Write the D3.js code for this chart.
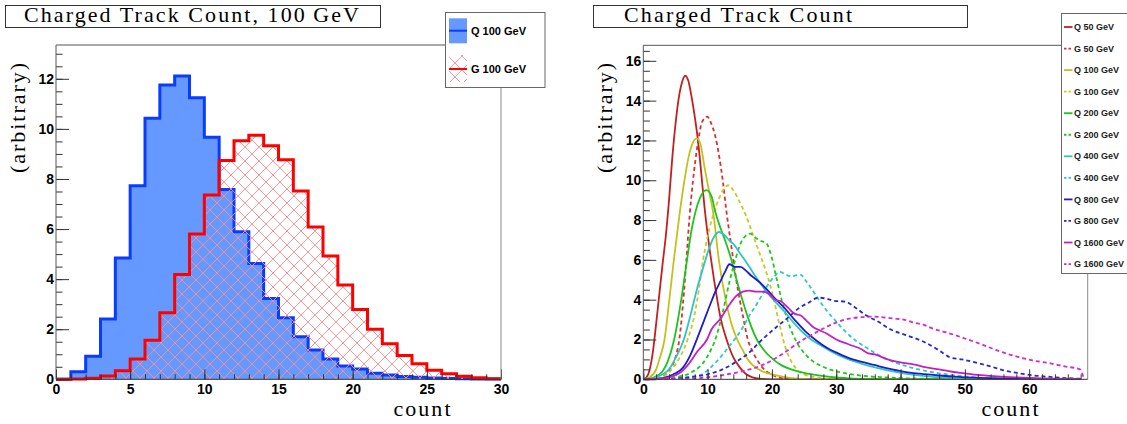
<!DOCTYPE html>
<html>
<head>
<meta charset="utf-8">
<script src="https://cdn.jsdelivr.net/npm/d3@7"></script>
<style>
  body { margin: 0; background: #fff; }
  svg { display: block; }
</style>
</head>
<body>
<div id="chart"></div>
<script>
const width = 1127,
	height = 424;

// ---- left panel: 100 GeV histograms (unit bins) ----
const binStarts = [0, 1, 2, 3, 4, 5, 6, 7, 8, 9, 10, 11, 12, 13, 14, 15, 16, 17, 18, 19, 20, 21, 22, 23, 24, 25, 26, 27, 28, 29];
const quark100 = [0, 0.30, 0.92, 2.41, 4.84, 7.73, 10.42, 11.75, 12.11, 11.24, 9.67, 7.58, 5.89, 4.62, 3.23, 2.46, 1.70, 1.17, 0.81, 0.53, 0.41, 0.24, 0.17, 0.11, 0.08, 0.05, 0.03, 0.02, 0.01, 0.01];
const gluon100 = [0, 0.01, 0.04, 0.13, 0.34, 0.81, 1.56, 2.66, 4.19, 5.80, 7.36, 8.74, 9.53, 9.75, 9.33, 8.77, 7.52, 6.08, 4.92, 3.77, 2.79, 2.0, 1.42, 0.95, 0.62, 0.36, 0.22, 0.12, 0.06, 0.02];
const leftLegend = ["Q 100 GeV", "G 100 GeV"];
const leftXTicks = [0, 5, 10, 15, 20, 25, 30];
const leftYTicks = [0, 2, 4, 6, 8, 10, 12];

// ---- right panel: smoothed distributions, [count, value] ----
const q50 = [[0, 0], [0.5, 0.1], [1, 0.5], [1.5, 1.4], [2, 2.8], [2.5, 4.3], [3, 5.8], [3.5, 7.2], [4, 9.0], [4.5, 11.1], [5, 12.8], [5.5, 14.1], [6, 14.9], [6.5, 15.25], [7, 15.0], [7.5, 14.2], [8, 13.2], [8.5, 12.0], [9, 10.4], [9.5, 8.7], [10, 7.3], [10.5, 6.1], [11, 5.0], [11.5, 4.0], [12, 3.1], [13, 1.95], [14, 1.1], [15, 0.6], [16, 0.25], [17, 0.1], [18, 0.03], [20, 0], [68, 0]];
const g50 = [[0, 0], [2, 0.02], [3, 0.12], [4, 0.45], [5, 1.1], [5.6, 2.0], [6.2, 3.9], [6.7, 6.0], [7.2, 8.2], [7.7, 9.9], [8.1, 11.0], [8.55, 12.0], [9, 12.8], [9.5, 13.1], [9.9, 13.2], [10.5, 12.9], [11.2, 12.2], [11.8, 11.2], [12.35, 10.0], [12.9, 8.5], [13.5, 7.1], [14, 6.0], [14.5, 4.9], [15, 4.0], [15.6, 3.0], [16.25, 2.0], [17, 1.4], [17.65, 1.0], [18.5, 0.6], [19.6, 0.3], [21, 0.1], [22, 0.04], [24, 0], [68, 0]];
const q100 = [[0, 0], [1, 0.1], [2, 0.5], [2.5, 1.0], [3.3, 2.0], [4.05, 4.0], [4.75, 6.0], [5.6, 8.2], [6.4, 10.0], [7.0, 11.1], [7.6, 11.8], [8.3, 12.1], [8.9, 11.8], [9.5, 10.7], [10.2, 9.5], [10.9, 8.3], [11.75, 6.0], [12.8, 4.0], [13.6, 2.9], [14.6, 2.0], [15.4, 1.5], [16.25, 1.0], [17.9, 0.5], [20.7, 0.2], [23, 0.06], [25.2, 0.01], [27, 0], [68, 0]];
const g100 = [[0, 0], [2, 0.03], [3, 0.1], [4, 0.35], [5, 0.75], [6, 1.3], [7, 2.1], [7.8, 3.0], [8.4, 4.0], [9.3, 6.0], [10.3, 7.6], [11.0, 8.4], [11.8, 9.1], [12.5, 9.55], [13.2, 9.75], [14, 9.5], [15, 8.9], [16, 8.2], [17, 7.3], [18, 6.4], [19, 5.5], [20, 4.4], [21, 3.0], [22, 1.7], [23, 0.9], [24, 0.45], [25, 0.25], [26.5, 0.12], [28, 0.05], [30, 0.01], [32, 0], [68, 0]];
const q200 = [[0, 0], [1, 0.03], [2, 0.15], [3, 0.4], [3.8, 0.9], [4.8, 2.0], [5.9, 4.0], [6.8, 6.0], [7.5, 7.5], [8.1, 8.4], [8.8, 9.1], [9.8, 9.5], [10.6, 9.2], [11.2, 8.4], [12, 7.6], [12.7, 7.0], [13.7, 6.0], [14.5, 5.0], [15.4, 4.0], [16.5, 2.9], [17.65, 2.0], [18.8, 1.45], [20.2, 1.0], [21.5, 0.7], [23, 0.5], [25, 0.32], [27.5, 0.18], [30, 0.09], [32, 0.05], [36, 0.01], [40, 0], [68, 0]];
const g200 = [[0, 0], [3, 0.02], [5, 0.1], [7.5, 0.35], [9.8, 1.06], [11.4, 2.2], [12.3, 3.3], [13.4, 4.9], [14.3, 6.0], [15.1, 6.8], [15.9, 7.2], [16.6, 7.32], [17.5, 7.1], [18.3, 6.95], [19.1, 6.85], [19.9, 6.2], [20.7, 5.1], [21.5, 4.0], [22.4, 3.0], [23.2, 2.3], [24.1, 1.73], [25.2, 1.25], [26.4, 0.9], [27.8, 0.65], [29.2, 0.47], [31, 0.33], [33.1, 0.22], [35, 0.15], [37.6, 0.1], [41, 0.05], [45, 0.02], [50, 0], [68, 0]];
const q400 = [[0, 0], [1, 0.02], [2, 0.1], [3, 0.25], [4, 0.5], [5, 1.06], [6.3, 2.0], [7.4, 3.3], [8.4, 4.6], [9.3, 5.6], [10.1, 6.45], [10.9, 7.1], [11.75, 7.4], [12.6, 7.25], [13.3, 7.0], [14.0, 6.8], [15.1, 6.3], [16.25, 5.77], [17.6, 5.1], [19.1, 4.43], [20.5, 3.9], [21.9, 3.42], [23.5, 2.8], [25.2, 2.24], [26.3, 1.95], [27.5, 1.73], [29.5, 1.35], [31.4, 1.06], [34, 0.78], [36.5, 0.56], [39, 0.38], [42.1, 0.22], [45, 0.12], [48.8, 0.05], [52, 0.02], [56, 0], [68, 0]];
const g400 = [[0, 0], [4, 0.02], [6, 0.08], [8.9, 0.22], [10.5, 0.6], [12.3, 1.23], [13.7, 1.8], [15.1, 2.41], [16.5, 3.2], [17.9, 3.92], [19.1, 4.6], [20.2, 5.1], [21.3, 5.39], [22.2, 5.25], [23.0, 5.18], [24.4, 5.26], [25.4, 4.9], [26.4, 4.43], [27.5, 3.9], [28.6, 3.42], [30, 2.9], [31.4, 2.41], [33, 1.95], [34.8, 1.57], [36.7, 1.2], [38.7, 0.9], [41, 0.65], [43.2, 0.47], [46, 0.3], [48.8, 0.19], [51.6, 0.1], [54.4, 0.05], [58, 0.02], [62, 0], [68, 0]];
const q800 = [[0, 0], [2, 0.02], [4, 0.15], [5, 0.3], [6.1, 0.56], [7.3, 1.2], [8.4, 2.07], [9.5, 3.0], [10.6, 3.92], [11.2, 4.4], [12, 4.93], [12.7, 5.4], [13.4, 5.78], [14.2, 5.65], [15.1, 5.65], [16, 5.45], [16.8, 5.2], [18, 4.9], [19.1, 4.55], [20.5, 4.05], [21.9, 3.6], [23.5, 3.0], [25.2, 2.41], [26.9, 1.95], [28.6, 1.57], [30.3, 1.3], [32, 1.06], [34, 0.87], [35.9, 0.72], [38, 0.55], [40.4, 0.39], [43, 0.28], [46, 0.19], [49, 0.12], [51.6, 0.08], [56, 0.04], [60, 0.02], [64, 0.01], [68, 0]];
const g800 = [[0, 0], [4, 0.02], [8.35, 0.15], [10, 0.25], [12.3, 0.5], [14.3, 0.85], [16.3, 1.3], [18.5, 2.0], [20.8, 2.65], [22.5, 3.1], [24.1, 3.55], [25.7, 3.85], [27.2, 4.1], [28.5, 4.05], [29.5, 3.95], [31.4, 3.9], [33, 3.6], [34.7, 3.2], [36.5, 2.9], [38.5, 2.5], [41, 2.2], [43.5, 1.9], [46, 1.45], [47.7, 1.1], [49.5, 1.0], [51.6, 0.85], [54, 0.65], [56, 0.45], [58.1, 0.32], [60.5, 0.2], [63.3, 0.12], [66, 0.06], [68, 0.03]];
const q1600 = [[0, 0], [2, 0.02], [4, 0.1], [5.6, 0.3], [7, 0.75], [8.4, 1.4], [9.9, 2.0], [10.6, 2.5], [11.9, 3.0], [13.5, 3.8], [14.5, 4.2], [15.5, 4.4], [16.5, 4.45], [17.5, 4.4], [18.5, 4.4], [19.5, 4.3], [20.5, 4.0], [21.5, 3.9], [22.5, 3.6], [23.5, 3.3], [24.5, 3.2], [25.5, 2.9], [26.5, 2.6], [27.5, 2.45], [28.5, 2.3], [30, 2.0], [32, 1.75], [34, 1.5], [35, 1.3], [36, 1.25], [38, 1.0], [40, 0.85], [42, 0.75], [44, 0.6], [46, 0.5], [48, 0.38], [50, 0.3], [52, 0.22], [55, 0.15], [58, 0.1], [62, 0.05], [66, 0.02], [68, 0.01]];
const g1600 = [[0, 0], [6, 0.02], [10, 0.1], [13, 0.25], [16, 0.45], [18, 0.65], [20, 0.95], [22, 1.35], [24.4, 1.9], [26, 2.2], [28, 2.55], [30, 2.85], [32, 3.05], [34, 3.12], [35.5, 3.15], [37, 3.12], [39, 3.05], [40.5, 3.0], [42, 2.85], [43.5, 2.75], [45, 2.55], [47.7, 2.3], [50, 2.05], [52.9, 1.72], [55, 1.45], [58.1, 1.14], [60.5, 0.95], [63.3, 0.8], [65.5, 0.65], [67.9, 0.5], [68.4, 0.13]];

const seriesNames = ["Q 50 GeV", "G 50 GeV", "Q 100 GeV", "G 100 GeV", "Q 200 GeV", "G 200 GeV", "Q 400 GeV", "G 400 GeV", "Q 800 GeV", "G 800 GeV", "Q 1600 GeV", "G 1600 GeV"];
const seriesPoints = [q50, g50, q100, g100, q200, g200, q400, g400, q800, g800, q1600, g1600];
const seriesColors = ["#c41e1e", "#d83030", "#c4c01c", "#ccc626", "#1ec41e", "#22c822", "#2ec4c4", "#2ec8c8", "#1e1ec4", "#2828d0", "#c41ec4", "#d02ad0"];
const rightXTicks = [0, 10, 20, 30, 40, 50, 60];
const rightYTicks = [0, 2, 4, 6, 8, 10, 12, 14, 16];

const svg = d3
	.select("#chart")
	.append("svg")
	.attr("width", width)
	.attr("height", height)
	.style("font-family", "'Liberation Sans', Arial, sans-serif");

const defs = svg.append("defs");
defs.append("pattern")
	.attr("id", "hatch")
	.attr("patternUnits", "userSpaceOnUse")
	.attr("width", 14)
	.attr("height", 14)
	.append("path")
	.attr("d", "M-1,-1 L15,15 M15,-1 L-1,15")
	.attr("stroke", "#ff8c8c")
	.attr("stroke-width", 0.9)
	.attr("fill", "none");

const serif = "'Liberation Serif', 'Times New Roman', serif";

// title box + axis titles, shared between the two panels
const drawDecor = (box, titleText, titleX, titleLen, yLabelX, countX) => {
	svg.append("rect")
		.attr("x", box[0] + 0.5).attr("y", 5.5)
		.attr("width", box[1] - box[0]).attr("height", 22)
		.attr("fill", "#fff").attr("stroke", "#333");
	svg.append("text")
		.attr("x", titleX).attr("y", 22)
		.attr("font-family", serif).attr("font-size", 22)
		.attr("textLength", titleLen).attr("lengthAdjust", "spacing")
		.text(titleText);
	svg.append("text")
		.attr("transform", `translate(${yLabelX},118) rotate(-90)`)
		.attr("text-anchor", "middle")
		.attr("font-family", serif).attr("font-size", 22)
		.attr("textLength", 110).attr("lengthAdjust", "spacing")
		.text("(arbitrary)");
	svg.append("text")
		.attr("x", countX).attr("y", 416)
		.attr("text-anchor", "middle")
		.attr("font-family", serif).attr("font-size", 22)
		.attr("textLength", 57).attr("lengthAdjust", "spacing")
		.text("count");
};

const drawAxes = (g, x, y, xMajor, xMinor, yMajor, yMinor) => {
	const [x0, x1] = x.range();
	const [y0, y1] = y.range();
	g.append("g")
		.attr("transform", `translate(0,${y0})`)
		.call(d3.axisBottom(x).tickValues(xMinor).tickSizeInner(-5).tickSizeOuter(0).tickFormat(""))
		.call((a) => a.select(".domain").remove());
	g.append("g")
		.attr("transform", `translate(0,${y0})`)
		.call(d3.axisBottom(x).tickValues(xMajor).tickSizeInner(-10).tickSizeOuter(0).tickPadding(5).tickFormat(d3.format("d")))
		.call((a) => a.select(".domain").remove());
	g.append("g")
		.attr("transform", `translate(${x0},0)`)
		.call(d3.axisLeft(y).tickValues(yMinor).tickSizeInner(-6.5).tickSizeOuter(0).tickFormat(""))
		.call((a) => a.select(".domain").remove());
	g.append("g")
		.attr("transform", `translate(${x0},0)`)
		.call(d3.axisLeft(y).tickValues(yMajor).tickSizeInner(-13).tickSizeOuter(0).tickPadding(2).tickFormat(d3.format("d")))
		.call((a) => a.select(".domain").remove());
	g.selectAll(".tick line").attr("stroke", "#333");
	g.selectAll(".tick text")
		.attr("fill", "#000")
		.attr("font-size", 14)
		.attr("font-weight", "bold")
		.attr("font-family", "'Liberation Sans', Arial, sans-serif");
	// frame
	g.append("path")
		.attr("d", `M${x0},${y0}V${y1}H${x1}`)
		.attr("fill", "none").attr("stroke", "#555");
	g.append("path")
		.attr("d", `M${x1},${y1}V${y0}`)
		.attr("fill", "none").attr("stroke", "#8a8a8a");
	g.append("path")
		.attr("d", `M${x0},${y0}H${x1}`)
		.attr("fill", "none").attr("stroke", "#333");
};

// ================= left panel =================
const xL = d3.scaleLinear().domain([0, 30]).range([56, 501]);
const yL = d3.scaleLinear().domain([0, 13.35]).range([379.3, 45]);

const histPoints = (vals) => {
	const pts = binStarts.map((b, i) => [b, vals[i]]);
	pts.push([binStarts[binStarts.length - 1] + 1, vals[vals.length - 1]]);
	return pts;
};
const stepLine = d3.line().x((d) => xL(d[0])).y((d) => yL(d[1])).curve(d3.curveStepAfter);
const stepArea = d3.area().x((d) => xL(d[0])).y0(yL(0)).y1((d) => yL(d[1])).curve(d3.curveStepAfter);

const gLeft = svg.append("g");
gLeft.append("path").datum(histPoints(quark100)).attr("d", stepArea).attr("fill", "#6699ff");
gLeft.append("path").datum(histPoints(quark100)).attr("d", stepLine)
	.attr("fill", "none").attr("stroke", "#0a3cff").attr("stroke-width", 3);
gLeft.append("path").datum(histPoints(gluon100)).attr("d", stepArea).attr("fill", "url(#hatch)");
gLeft.append("path").datum(histPoints(gluon100)).attr("d", stepLine)
	.attr("fill", "none").attr("stroke", "#ff0000").attr("stroke-width", 3);

drawAxes(gLeft, xL, yL, leftXTicks, d3.range(0, 31, 1), leftYTicks, d3.range(0, 13.5, 0.5));
drawDecor([5, 380], "Charged Track Count, 100\u2009GeV", 24, 335, 25, 422);

// left legend
const legL = svg.append("g");
legL.append("rect").attr("x", 445.5).attr("y", 12.5).attr("width", 99.5).attr("height", 75)
	.attr("fill", "#fff").attr("stroke", "#666");
legL.append("rect").attr("x", 449).attr("y", 18.3).attr("width", 18).attr("height", 25).attr("fill", "#6699ff");
legL.append("line").attr("x1", 449).attr("x2", 467).attr("y1", 30.7).attr("y2", 30.7)
	.attr("stroke", "#0a3cff").attr("stroke-width", 2);
legL.append("rect").attr("x", 449).attr("y", 55).attr("width", 18).attr("height", 27).attr("fill", "url(#hatch)");
legL.append("line").attr("x1", 449).attr("x2", 467).attr("y1", 69).attr("y2", 69)
	.attr("stroke", "#ff0000").attr("stroke-width", 2);
legL.selectAll("text.lab")
	.data(leftLegend)
	.join("text")
	.attr("class", "lab")
	.attr("x", 471)
	.attr("y", (d, i) => (i === 0 ? 30.7 : 69))
	.attr("dy", "0.35em")
	.attr("font-size", 11)
	.attr("font-weight", "bold")
	.text((d) => d);

// ================= right panel =================
const xR = d3.scaleLinear().domain([0, 69.1]).range([643.3, 1087.7]);
const yR = d3.scaleLinear().domain([0, 16.78]).range([379.3, 45.3]);

const gRight = svg.append("g");
defs.append("clipPath").attr("id", "clipR")
	.append("rect").attr("x", 643.3).attr("y", 45.3).attr("width", 444.4).attr("height", 334);

const curve = d3.line().x((d) => xR(d[0])).y((d) => yR(d[1])).curve(d3.curveMonotoneX);

const rightSeries = seriesNames.map((name, i) => ({
	name,
	points: seriesPoints[i],
	color: seriesColors[i],
	dashed: name.startsWith("G"),
}));

gRight.append("g")
	.attr("clip-path", "url(#clipR)")
	.selectAll("path")
	.data(rightSeries)
	.join("path")
	.attr("d", (d) => curve(d.points))
	.attr("fill", "none")
	.attr("stroke", (d) => d.color)
	.attr("stroke-width", 1.8)
	.attr("stroke-dasharray", (d) => (d.dashed ? "4,3" : null));

drawAxes(gRight, xR, yR, rightXTicks, d3.range(0, 69, 2), rightYTicks, d3.range(0, 17, 0.5));
drawDecor([593, 967], "Charged Track Count", 624, 228, 612, 1010);

// right legend
const legR = svg.append("g");
legR.append("rect").attr("x", 1061.5).attr("y", 13.5).attr("width", 80).attr("height", 260)
	.attr("fill", "#fff").attr("stroke", "#666");
const legItem = legR.selectAll("g.item")
	.data(rightSeries)
	.join("g")
	.attr("class", "item")
	.attr("transform", (d, i) => `translate(0,${27 + i * 21.55})`);
legItem.append("line")
	.attr("x1", 1064).attr("x2", 1072.5)
	.attr("stroke", (d) => d.color)
	.attr("stroke-width", 1.8)
	.attr("stroke-dasharray", (d) => (d.dashed ? "2.5,2" : null));
legItem.append("text")
	.attr("x", 1074)
	.attr("dy", "0.35em")
	.attr("font-size", 9)
	.attr("font-weight", "bold")
	.attr("fill", "#222")
	.text((d) => d.name);
</script>
</body>
</html>
